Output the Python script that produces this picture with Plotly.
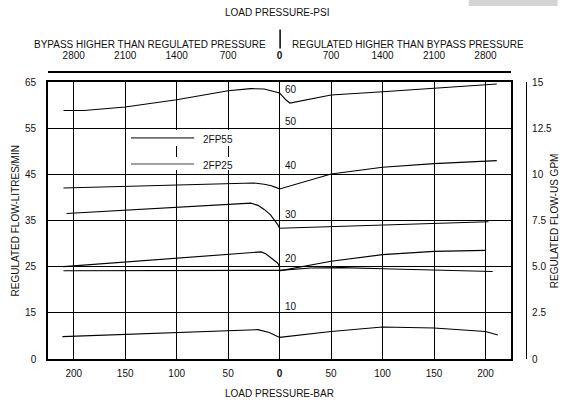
import plotly.graph_objects as go

# ---------------- data (x in bar: negative = bypass side; y in US GPM) ----------------
c1_x = [-210, -190, -150, -100, -50, -28, -15, -10, -5, 0, 3, 6, 10, 50, 100, 150, 200, 211]
c1_y = [13.46, 13.46, 13.65, 14.04, 14.53, 14.64, 14.62, 14.56, 14.50, 14.40, 14.22, 14.04, 13.86, 14.30, 14.47, 14.67, 14.84, 14.89]

c2_x = [-210, -100, -40, -25, -15, -8, -3, 0, 50, 100, 150, 200, 211]
c2_y = [9.26, 9.40, 9.50, 9.53, 9.46, 9.38, 9.28, 9.21, 10.02, 10.38, 10.58, 10.68, 10.74]

c3_x = [-207, -100, -60, -34, -28, -21, -15, -9, -4, -1.5, 0, 100, 203]
c3_y = [7.88, 8.23, 8.37, 8.45, 8.44, 8.32, 8.10, 7.82, 7.45, 7.25, 7.08, 7.25, 7.43]

c4_x = [-210, -150, -100, -50, -18, -13.5, -10, -6, -2, 0, 0, 50, 100, 150, 200]
c4_y = [5.00, 5.25, 5.45, 5.66, 5.80, 5.70, 5.56, 5.38, 5.20, 5.01, 4.78, 5.29, 5.65, 5.83, 5.88]

c5_x = [-210, 0, 30, 60, 100, 150, 207]
c5_y = [4.78, 4.80, 4.93, 4.95, 4.89, 4.82, 4.74]

c6_x = [-211, -100, -21, -10, -5, 0, 50, 100, 150, 200, 212]
c6_y = [1.21, 1.44, 1.59, 1.44, 1.32, 1.17, 1.49, 1.73, 1.68, 1.49, 1.30]

bar_ticks = [-200, -150, -100, -50, 0, 50, 100, 150, 200]
bar_labels = ["200", "150", "100", "50", "<b>0</b>", "50", "100", "150", "200"]
psi_labels = ["2800", "2100", "1400", "700", "<b>0</b>", "700", "1400", "2100", "2800"]

gpm_ticks = [0, 2.5, 5, 7.5, 10, 12.5, 15]
lpm_labels = ["0", "15", "25", "35", "45", "55", "65"]
gpm_labels = ["0", "2.5", "5.0", "7.5", "10", "12.5", "15"]

inner_labels = ["60", "50", "40", "30", "20", "10"]
inner_label_y = [14.58, 12.87, 10.48, 7.81, 5.43, 2.85]

legend_names = ["2FP55", "2FP25"]
legend_y = [11.97, 10.56]

# ---------------- layout geometry (pixels) ----------------
W, H = 564, 403
ML, MR, MT, MB = 48, 30, 60, 44
PW = W - ML - MR
PH = H - MT - MB


def px_x(px):
    return (px - ML) / PW


def px_y(py):
    return (H - MB - py) / PH


FONT = "Liberation Sans, Arial, sans-serif"
INK = "#111111"

fig = go.Figure()
for xs, ys in [(c1_x, c1_y), (c2_x, c2_y), (c3_x, c3_y), (c4_x, c4_y), (c5_x, c5_y), (c6_x, c6_y)]:
    fig.add_trace(go.Scatter(x=xs, y=ys, mode="lines", line=dict(color="black", width=1.1),
                             hoverinfo="skip", showlegend=False))

# helper traces so the secondary axes are drawn
fig.add_trace(go.Scatter(x=[bar_ticks[0]], y=[gpm_ticks[0]], mode="markers", opacity=0,
                         xaxis="x2", yaxis="y", hoverinfo="skip", showlegend=False))
fig.add_trace(go.Scatter(x=[bar_ticks[0]], y=[gpm_ticks[0]], mode="markers", opacity=0,
                         xaxis="x", yaxis="y2", hoverinfo="skip", showlegend=False))

x_dom = [0, (517 - ML) / PW]
y_dom = [0, (359.3 - 82.3) / PH]

fig.update_layout(
    width=W, height=H,
    margin=dict(l=ML, r=MR, t=MT, b=MB, pad=0),
    paper_bgcolor="white", plot_bgcolor="rgba(0,0,0,0)",
    font=dict(family=FONT, size=10, color=INK),
    showlegend=False,
    xaxis=dict(domain=x_dom, range=[-225, 225], tickvals=bar_ticks, ticktext=bar_labels,
               showgrid=True, gridcolor="#000000", gridwidth=1, zeroline=False,
               showline=True, linecolor="black", linewidth=1.6, mirror=True,
               ticks="", ticklabelstandoff=4, tickfont=dict(size=10, color=INK)),
    xaxis2=dict(overlaying="x", side="top", anchor="free", position=px_y(72),
                range=[-225, 225], tickvals=bar_ticks, ticktext=psi_labels,
                showgrid=False, zeroline=False, showline=True, linecolor="black", linewidth=1.6,
                ticks="", ticklabelstandoff=8, tickfont=dict(size=10, color=INK)),
    yaxis=dict(domain=y_dom, range=[0, 15], tickvals=gpm_ticks, ticktext=lpm_labels,
               showgrid=True, gridcolor="#000000", gridwidth=1, zeroline=False,
               showline=True, linecolor="black", linewidth=1.6, mirror=True,
               ticks="", ticklabelstandoff=8, tickfont=dict(size=10, color=INK)),
    yaxis2=dict(overlaying="y", side="right", anchor="free", position=px_x(532),
                range=[0, 15], tickvals=gpm_ticks, ticktext=gpm_labels,
                showgrid=False, zeroline=False, showline=True, linecolor="black", linewidth=1.2,
                ticks="", ticklabelstandoff=3, tickfont=dict(size=10, color=INK)),
)

shapes = []
# legend masks over the gridlines
shapes.append(dict(type="rect", xref="paper", yref="paper", x0=px_x(130), x1=px_x(237),
                   y0=px_y(146), y1=px_y(130), fillcolor="white", line=dict(width=0), layer="above"))
shapes.append(dict(type="rect", xref="paper", yref="paper", x0=px_x(130), x1=px_x(237),
                   y0=px_y(170), y1=px_y(157), fillcolor="white", line=dict(width=0), layer="above"))
# legend sample lines
for ly, col in zip(legend_y, ["black", "#444444"]):
    shapes.append(dict(type="line", xref="x", yref="y", x0=-144.4, x1=-83.0, y0=ly, y1=ly,
                       line=dict(color=col, width=1), layer="above"))
# separator between the two top headings
shapes.append(dict(type="line", xref="paper", yref="paper", x0=px_x(283), x1=px_x(283),
                   y0=px_y(48.5), y1=px_y(29.5), line=dict(color="black", width=1.5)))
# grey strip top right
shapes.append(dict(type="rect", xref="paper", yref="paper", x0=px_x(474), x1=px_x(564),
                   y0=px_y(6), y1=px_y(0), fillcolor="#d4d4d4", line=dict(width=0)))
fig.update_layout(shapes=shapes)

ann = []
for t, yv in zip(inner_labels, inner_label_y):
    ann.append(dict(x=3.6, y=yv, xref="x", yref="y", text=t, showarrow=False,
                    xanchor="left", yanchor="middle", font=dict(size=10, color=INK)))
for t, yv in zip(legend_names, legend_y):
    ann.append(dict(x=-76.5, y=yv - 0.08, xref="x", yref="y", text=t, showarrow=False,
                    xanchor="left", yanchor="middle", font=dict(size=10, color=INK)))
ann.append(dict(x=px_x(280), y=px_y(12.6), xref="paper", yref="paper", text="LOAD PRESSURE-PSI",
                showarrow=False, xanchor="center", yanchor="middle", font=dict(size=10, color=INK)))
ann.append(dict(x=px_x(151), y=px_y(44), xref="paper", yref="paper",
                text="BYPASS HIGHER THAN REGULATED PRESSURE",
                showarrow=False, xanchor="center", yanchor="middle", font=dict(size=10, color=INK)))
ann.append(dict(x=px_x(412), y=px_y(44), xref="paper", yref="paper",
                text="REGULATED HIGHER THAN BYPASS PRESSURE",
                showarrow=False, xanchor="center", yanchor="middle", font=dict(size=10, color=INK)))
ann.append(dict(x=px_x(282), y=px_y(393), xref="paper", yref="paper", text="LOAD PRESSURE-BAR",
                showarrow=False, xanchor="center", yanchor="middle", font=dict(size=10, color=INK)))
ann.append(dict(x=px_x(15), y=px_y(221), xref="paper", yref="paper", text="REGULATED FLOW-LITRES/MIN",
                showarrow=False, xanchor="center", yanchor="middle", textangle=-90,
                font=dict(size=10, color=INK)))
ann.append(dict(x=px_x(553), y=px_y(221), xref="paper", yref="paper", text="REGULATED FLOW-US GPM",
                showarrow=False, xanchor="left", yanchor="middle", textangle=-90,
                font=dict(size=10, color=INK)))
fig.update_layout(annotations=ann)

fig.write_html("out.html", config={"displayModeBar": False},
               post_script="document.body.style.margin='0';")
